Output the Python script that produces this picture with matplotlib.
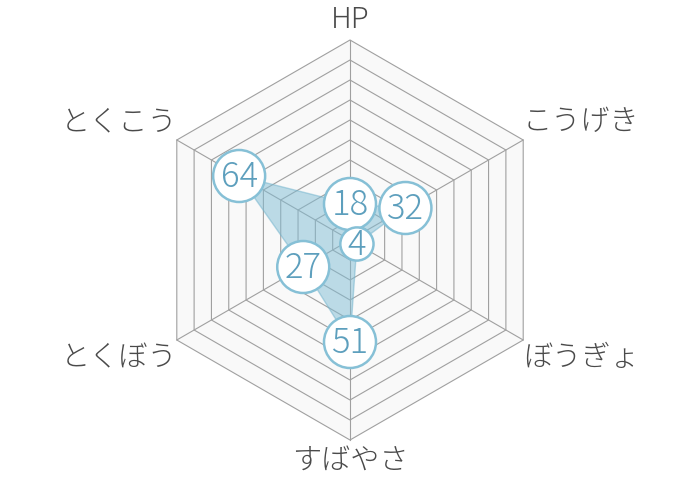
import numpy as np
import matplotlib
matplotlib.use('Agg')
import matplotlib.pyplot as plt
from matplotlib.patches import Polygon, Circle

plt.rcParams['font.family'] = ['Noto Sans CJK JP', 'DejaVu Sans']

# stats, clockwise from the top
labels = ['HP', 'こうげき', 'ぼうぎょ', 'すばやさ', 'とくぼう', 'とくこう']
values = [18, 32, 4, 51, 27, 64]
max_value = 100
ring_steps = [10, 20, 30, 40, 50, 60, 70, 80, 90, 100]

n = len(labels)
angles = np.pi / 2 - np.arange(n) * 2 * np.pi / n


def to_xy(r, a):
    return r * np.cos(a), r * np.sin(a)


fig = plt.figure(figsize=(7, 4.8), dpi=100)
ax = fig.add_axes([0, 0, 1, 1])
ax.set_xlim(-175, 175)
ax.set_ylim(-120, 120)
ax.set_aspect('equal')
ax.axis('off')

# background + rings
outer = np.column_stack(to_xy(max_value, angles))
ax.add_patch(Polygon(outer, closed=True, facecolor='#f9f9f9', edgecolor='none', zorder=0))
for r in ring_steps:
    pts = np.column_stack(to_xy(r, angles))
    ax.add_patch(Polygon(pts, closed=True, fill=False, edgecolor='#a0a0a0', linewidth=0.8, zorder=1))

# spokes
for a in angles:
    x, y = to_xy(max_value, a)
    ax.plot([0, x], [0, y], color='#a0a0a0', linewidth=0.8, zorder=1)

# data polygon
xs, ys = to_xy(np.array(values, dtype=float), angles)
ax.add_patch(Polygon(np.column_stack([xs, ys]), closed=True, facecolor='#7fbcd4', alpha=0.5,
                     edgecolor='#6fb2cc', linewidth=1, zorder=2))

# value bubbles
for i, v in enumerate(values):
    rad = 13 if v >= 10 else 8.3
    ax.add_patch(Circle((xs[i], ys[i]), rad, facecolor='white', edgecolor='#86c0d6',
                        linewidth=1.8, zorder=3 + i))
    ax.text(xs[i], ys[i] - 0.3, str(v), ha='center', va='center', fontsize=25,
            fontweight='light', color='#5d9fbd', zorder=3 + i)

# category labels
offsets = [(0, 10), (29, 9), (29, -9), (0, -10), (-29, -9), (-29, 9)]
for lab, a, (dx, dy) in zip(labels, angles, offsets):
    x, y = to_xy(max_value, a)
    ax.text(x + dx, y + dy, lab, ha='center', va='center', fontsize=21,
            fontweight='light', color='#4a4a4a')

fig.savefig('out.png', dpi=100, facecolor='white')
